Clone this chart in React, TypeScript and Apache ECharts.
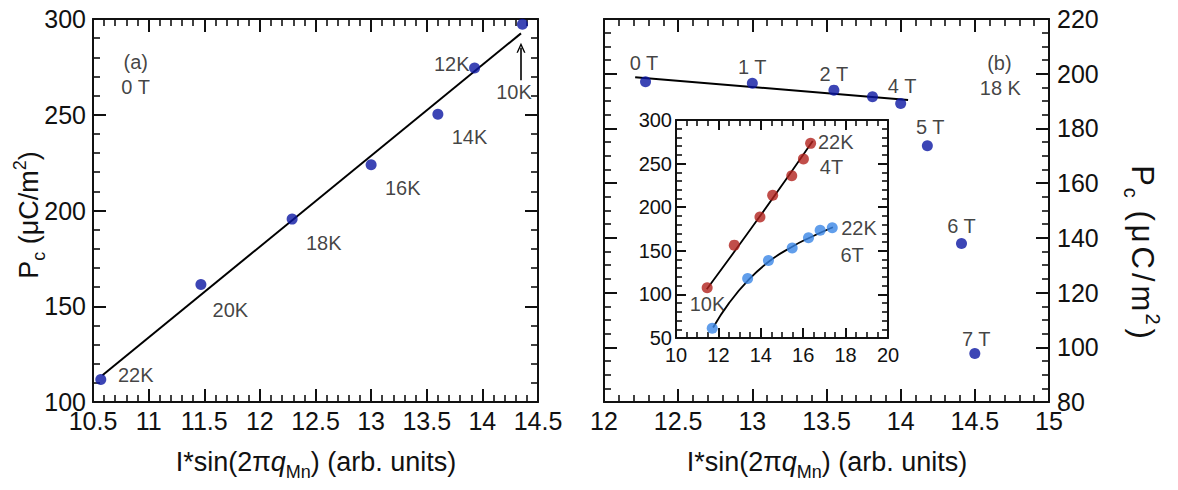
import React, { useEffect, useRef } from "react";
import * as echarts from "echarts";

// ---------- data ----------
// Panel (a): Pc vs I*sin(2*pi*q_Mn) at 0 T, temperatures 22K..10K
const aPoints: number[][] = [
  [10.57, 111.7],
  [11.47, 161.3],
  [12.29, 195.5],
  [13.0, 223.9],
  [13.6, 250.3],
  [13.93, 274.4],
  [14.36, 297.2],
];
const aFit: number[][] = [
  [10.585, 114],
  [14.347, 292.5],
];
const aArrow: number[][] = [
  [14.347, 268],
  [14.347, 285],
];
const aLabels: [number, number, string][] = [
  [10.72, 114, "22K"],
  [11.57, 148, "20K"],
  [12.41, 183, "18K"],
  [13.12, 212, "16K"],
  [13.72, 238.5, "14K"],
  [13.56, 276.5, "12K"],
  [14.12, 262, "10K"],
  [10.77, 277.5, "(a)"],
  [10.75, 264.6, "0 T"],
];

// Panel (b): 18 K, field 0..7 T
const bPoints: number[][] = [
  [12.28, 197.1],
  [13.0, 196.5],
  [13.55, 194],
  [13.81, 191.6],
  [14.0, 189.1],
  [14.18, 173.7],
  [14.41, 137.9],
  [14.5, 97.7],
];
const bFit: number[][] = [
  [12.21, 198.7],
  [14.05, 190.4],
];
const bLabels: [number, number, string][] = [
  [12.17, 204, "0 T"],
  [12.9, 202.5, "1 T"],
  [13.45, 200, "2 T"],
  [13.91, 195.5, "4 T"],
  [14.1, 180.6, "5 T"],
  [14.31, 144.3, "6 T"],
  [14.41, 103.2, "7 T"],
  [14.58, 204, "(b)"],
  [14.53, 194.6, "18 K"],
];

// Inset: 4 T and 6 T temperature series (10K..22K)
const inset4T: number[][] = [
  [11.47, 107.5],
  [12.75, 156.5],
  [13.96, 188.7],
  [14.56, 213.6],
  [15.46, 236],
  [16.01, 255.2],
  [16.35, 273.2],
];
const inset6T: number[][] = [
  [11.71, 61.2],
  [13.38, 118.2],
  [14.36, 138.8],
  [15.48, 153.2],
  [16.25, 165],
  [16.8, 173.5],
  [17.37, 176.4],
];
const inset4TFit: number[][] = [
  [11.45, 106],
  [14.0, 191],
  [16.45, 276],
];
const inset6TFit: number[][] = [
  [11.75, 62],
  [12.5, 90],
  [13.4, 116],
  [14.4, 138],
  [15.5, 155],
  [16.3, 165],
  [17.4, 177],
];
const insetLabels: [number, number, string][] = [
  [16.67, 275, "22K"],
  [16.76, 245.6, "4T"],
  [17.77, 176.7, "22K"],
  [17.73, 145, "6T"],
  [10.62, 89, "10K"],
];

// ---------- styling ----------
const FONT = "'Liberation Sans', Arial, Helvetica, sans-serif";
const INK = "#111111";
const DARK_BLUE = "#0b17a3";
const RED = "#b2221d";
const LIGHT_BLUE = "#3a86e6";
const OPEN_ARROW = "path://M0,10 L5,0 L10,10 L8.4,10 L5,3.2 L1.6,10 Z";

function axisCommon(
  showLabel: boolean,
  fontSize: number,
  tickLen: number,
  minorLen: number,
  minorSplit: number,
  margin: number
) {
  return {
    type: "value" as const,
    axisLine: { show: true, onZero: false, lineStyle: { color: INK, width: 2 } },
    axisTick: { show: true, inside: true, length: tickLen, lineStyle: { color: INK, width: 2 } },
    minorTick: { show: true, splitNumber: minorSplit, length: minorLen, lineStyle: { color: INK, width: 1.6 } },
    splitLine: { show: false },
    minorSplitLine: { show: false },
    axisLabel: {
      show: showLabel,
      fontSize,
      color: INK,
      fontFamily: FONT,
      margin,
      showMinLabel: true,
      showMaxLabel: true,
    },
  };
}

function labelSeries(xi: number, yi: number, items: [number, number, string][], fontSize: number) {
  return {
    type: "scatter",
    xAxisIndex: xi,
    yAxisIndex: yi,
    symbolSize: 1,
    silent: true,
    z: 5,
    itemStyle: { color: "rgba(0,0,0,0)" },
    label: {
      show: true,
      position: "right",
      distance: 0,
      fontSize,
      fontFamily: FONT,
      color: INK,
      formatter: (p: any) => p.name,
    },
    data: items.map((l) => ({ name: l[2], value: [l[0], l[1]] })),
  };
}

const titleRich = (size: number, spread: number) => ({
  n: { fontSize: size, fontFamily: FONT, color: INK, padding: [0, spread, 0, spread] },
  i: { fontSize: size, fontFamily: FONT, color: INK, fontStyle: "italic" },
  s: { fontSize: Math.round(size * 0.65), fontFamily: FONT, color: INK, padding: [Math.round(size * 0.7), spread, 0, 0] },
  p: { fontSize: Math.round(size * 0.65), fontFamily: FONT, color: INK, padding: [0, spread, Math.round(size * 0.7), 0] },
});

function titleText(x: number, y: number, text: string, rotation: number, size: number, spread = 0) {
  return {
    type: "text",
    x,
    y,
    rotation,
    silent: true,
    style: {
      text,
      rich: titleRich(size, spread),
      align: "center",
      verticalAlign: "middle",
      textAlign: "center",
      textVerticalAlign: "middle",
      fill: INK,
      font: `${size}px ${FONT}`,
    },
  };
}

export default function App() {
  const ref = useRef<HTMLDivElement>(null);

  useEffect(() => {
    if (!ref.current) return;
    const chart = echarts.init(ref.current, undefined, { renderer: "svg" });

    const MAIN_FS = 25;
    const INSET_FS = 20;

    const option: any = {
      animation: false,
      backgroundColor: "#ffffff",
      grid: [
        { left: 93, top: 19, width: 445, height: 383, show: false },
        { left: 604, top: 19, width: 445, height: 383, show: false },
        { left: 676, top: 120, width: 212, height: 218, show: false },
      ],
      xAxis: [
        // panel (a)
        { ...axisCommon(true, MAIN_FS, 13, 7, 5, 6), gridIndex: 0, position: "bottom", min: 10.5, max: 14.5, interval: 0.5 },
        { ...axisCommon(false, MAIN_FS, 13, 7, 5, 6), gridIndex: 0, position: "top", min: 10.5, max: 14.5, interval: 0.5 },
        // panel (b)
        { ...axisCommon(true, MAIN_FS, 13, 7, 5, 6), gridIndex: 1, position: "bottom", min: 12, max: 15, interval: 0.5 },
        { ...axisCommon(false, MAIN_FS, 13, 7, 5, 6), gridIndex: 1, position: "top", min: 12, max: 15, interval: 0.5 },
        // inset
        { ...axisCommon(true, INSET_FS, 10, 6, 4, 7), gridIndex: 2, position: "bottom", min: 10, max: 20, interval: 2 },
        { ...axisCommon(false, INSET_FS, 10, 6, 4, 7), gridIndex: 2, position: "top", min: 10, max: 20, interval: 2 },
      ],
      yAxis: [
        // panel (a)
        { ...axisCommon(true, MAIN_FS, 13, 7, 5, 7), gridIndex: 0, position: "left", min: 100, max: 300, interval: 50 },
        { ...axisCommon(false, MAIN_FS, 13, 7, 5, 7), gridIndex: 0, position: "right", min: 100, max: 300, interval: 50 },
        // panel (b)
        { ...axisCommon(false, MAIN_FS, 13, 7, 4, 8), gridIndex: 1, position: "left", min: 80, max: 220, interval: 20 },
        { ...axisCommon(true, MAIN_FS, 13, 7, 4, 8), gridIndex: 1, position: "right", min: 80, max: 220, interval: 20 },
        // inset
        { ...axisCommon(true, INSET_FS, 10, 6, 5, 4), gridIndex: 2, position: "left", min: 50, max: 300, interval: 50 },
        { ...axisCommon(false, INSET_FS, 10, 6, 5, 4), gridIndex: 2, position: "right", min: 50, max: 300, interval: 50 },
      ],
      series: [
        // panel (a)
        {
          type: "line",
          xAxisIndex: 0,
          yAxisIndex: 0,
          data: aFit,
          showSymbol: false,
          silent: true,
          lineStyle: { color: "#000", width: 2 },
          z: 2,
        },
        {
          type: "line",
          xAxisIndex: 0,
          yAxisIndex: 0,
          data: aArrow,
          showSymbol: false,
          silent: true,
          lineStyle: { color: "#000", width: 0, opacity: 0 },
          markLine: {
            silent: true,
            symbol: ["none", OPEN_ARROW],
            symbolSize: [9, 10],
            label: { show: false },
            lineStyle: { color: "#000", width: 1.6, type: "solid" },
            data: [[{ coord: aArrow[0] }, { coord: aArrow[1] }]],
          },
          z: 2,
        },
        {
          type: "scatter",
          xAxisIndex: 0,
          yAxisIndex: 0,
          data: aPoints,
          symbolSize: 11,
          silent: true,
          itemStyle: { color: DARK_BLUE },
          z: 3,
        },
        labelSeries(0, 0, aLabels, 20),
        // panel (b)
        {
          type: "line",
          xAxisIndex: 2,
          yAxisIndex: 3,
          data: bFit,
          showSymbol: false,
          silent: true,
          lineStyle: { color: "#000", width: 2 },
          z: 2,
        },
        {
          type: "scatter",
          xAxisIndex: 2,
          yAxisIndex: 3,
          data: bPoints,
          symbolSize: 11,
          silent: true,
          itemStyle: { color: DARK_BLUE },
          z: 3,
        },
        labelSeries(2, 3, bLabels, 20),
        // inset
        {
          type: "line",
          xAxisIndex: 4,
          yAxisIndex: 4,
          data: inset4TFit,
          smooth: true,
          showSymbol: false,
          silent: true,
          lineStyle: { color: "#000", width: 1.8 },
          z: 2,
        },
        {
          type: "line",
          xAxisIndex: 4,
          yAxisIndex: 4,
          data: inset6TFit,
          smooth: true,
          showSymbol: false,
          silent: true,
          lineStyle: { color: "#000", width: 1.8 },
          z: 2,
        },
        {
          type: "scatter",
          xAxisIndex: 4,
          yAxisIndex: 4,
          data: inset4T,
          symbolSize: 11,
          silent: true,
          itemStyle: { color: RED },
          z: 3,
        },
        {
          type: "scatter",
          xAxisIndex: 4,
          yAxisIndex: 4,
          data: inset6T,
          symbolSize: 11,
          silent: true,
          itemStyle: { color: LIGHT_BLUE },
          z: 3,
        },
        labelSeries(4, 4, insetLabels, 20),
      ],
      graphic: [
        titleText(316, 462, "{n|I*sin(2π}{i|q}{s|Mn}{n|) (arb. units)}", 0, 27),
        titleText(827, 462, "{n|I*sin(2π}{i|q}{s|Mn}{n|) (arb. units)}", 0, 27),
        titleText(29, 215, "{n|P}{s|c}{n| (μC/m}{p|2}{n|)}", Math.PI / 2, 27),
        titleText(1142, 252, "{n|P}{s|c}{n| (}{n|μ}{n|C}{n|/}{n|m}{p|2}{n|)}", -Math.PI / 2, 31, 2),
      ],
    };

    chart.setOption(option);
    return () => {
      chart.dispose();
    };
  }, []);

  return (
    <div
      ref={ref}
      style={{ position: "fixed", left: 0, top: 0, width: 1178, height: 490, background: "#fff" }}
    />
  );
}
